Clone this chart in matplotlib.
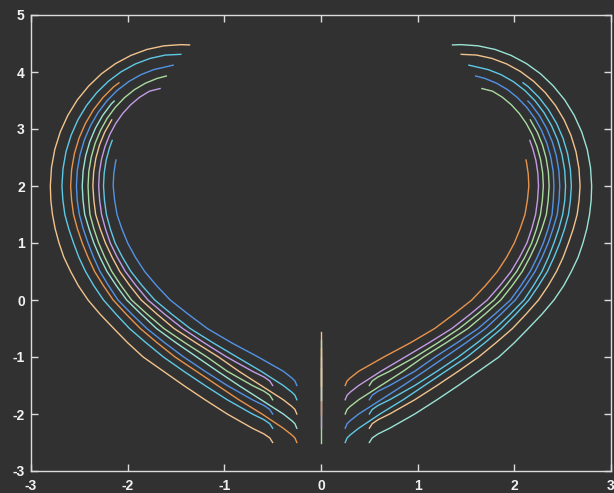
import numpy as np
import matplotlib.pyplot as plt

plt.rcParams['axes.unicode_minus'] = False

# starting points of the trajectories
x_starts = [-0.5, -0.25, 0, 0.25, 0.5]
y_starts = [-2.5, -2.25, -2.0, -1.75, -1.5]

# colour order (cycled)
colors = ['#f2c38c', '#5fc9e6', '#5393e6', '#a9dba0', '#c49ce6', '#e8944c', '#9ae3d4']

# right-hand trajectories (left side is the mirror image)
# x0 = 0.5
a_x = [0.50, 0.53, 0.59, 0.71, 0.97, 1.20, 1.42, 1.63, 1.84, 2.00, 2.144, 2.285, 2.41, 2.51, 2.59, 2.66,
       2.71, 2.75, 2.778, 2.795, 2.80, 2.788, 2.754, 2.697, 2.619, 2.521, 2.404, 2.272, 2.125, 1.967,
       1.80, 1.626, 1.45, 1.36]
a_y = [-2.50, -2.42, -2.35, -2.25, -2.0, -1.75, -1.5, -1.25, -1.0, -0.75, -0.5, -0.25, 0.0, 0.25, 0.5, 0.75,
       1.0, 1.25, 1.5, 1.75, 2.0, 2.324, 2.642, 2.949, 3.24, 3.51, 3.753, 3.968, 4.148, 4.291,
       4.396, 4.459, 4.48, 4.475]
b_x = [0.50, 0.53, 0.59, 0.71, 0.97, 1.20, 1.42, 1.63, 1.81, 1.981, 2.12, 2.25, 2.35, 2.436, 2.505, 2.56,
       2.61, 2.65, 2.67, 2.68, 2.669, 2.638, 2.586, 2.515, 2.426, 2.32, 2.199, 2.065, 1.921, 1.769,
       1.611, 1.45]
b_y = [-2.25, -2.17, -2.10, -2.0, -1.75, -1.5, -1.25, -1.0, -0.75, -0.5, -0.25, 0.0, 0.25, 0.5, 0.75, 1.0,
       1.25, 1.5, 1.75, 2.0, 2.302, 2.60, 2.887, 3.159, 3.411, 3.638, 3.838, 4.007, 4.141, 4.238,
       4.297, 4.31]
d_x = [0.50, 0.53, 0.59, 0.71, 0.97, 1.20, 1.42, 1.617, 1.802, 1.955, 2.10, 2.197, 2.286, 2.353, 2.41,
       2.46, 2.50, 2.522, 2.53, 2.521, 2.493, 2.448, 2.385, 2.307, 2.214, 2.108, 1.99, 1.863, 1.73,
       1.591, 1.53]
d_y = [-2.0, -1.92, -1.85, -1.75, -1.5, -1.25, -1.0, -0.75, -0.5, -0.25, 0.0, 0.25, 0.5, 0.75, 1.0,
       1.25, 1.5, 1.75, 2.0, 2.276, 2.548, 2.809, 3.057, 3.287, 3.495, 3.677, 3.831, 3.953, 4.042,
       4.096, 4.12]
f_x = [0.50, 0.53, 0.59, 0.71, 0.97, 1.18, 1.408, 1.625, 1.797, 1.96, 2.067, 2.164, 2.237, 2.30, 2.35,
       2.39, 2.403, 2.41, 2.402, 2.377, 2.337, 2.281, 2.212, 2.129, 2.034, 1.93, 1.817, 1.699, 1.60]
f_y = [-1.75, -1.67, -1.60, -1.5, -1.25, -1.0, -0.75, -0.5, -0.25, 0.0, 0.25, 0.5, 0.75, 1.0, 1.25,
       1.5, 1.75, 2.0, 2.255, 2.505, 2.747, 2.976, 3.188, 3.379, 3.548, 3.690, 3.803, 3.885, 3.93]
h_x = [0.50, 0.53, 0.59, 0.71, 0.975, 1.21, 1.431, 1.617, 1.79, 1.913, 2.024, 2.108, 2.18, 2.23, 2.27,
       2.29, 2.30, 2.293, 2.271, 2.235, 2.186, 2.124, 2.051, 1.967, 1.875, 1.775, 1.665]
h_y = [-1.5, -1.42, -1.35, -1.25, -1.0, -0.75, -0.5, -0.25, 0.0, 0.25, 0.5, 0.75, 1.0, 1.25, 1.5,
       1.75, 2.0, 2.235, 2.466, 2.689, 2.90, 3.096, 3.273, 3.428, 3.559, 3.663, 3.71]
# x0 = 0.25
c_x = [0.25, 0.27, 0.30, 0.39, 0.61, 0.85, 1.07, 1.29, 1.51, 1.695, 1.869, 2.015, 2.15, 2.25, 2.342,
       2.41, 2.47, 2.52, 2.56, 2.58, 2.59, 2.58, 2.551, 2.503, 2.437, 2.354, 2.256, 2.144, 2.09]
c_y = [-2.50, -2.42, -2.37, -2.25, -2.0, -1.75, -1.5, -1.25, -1.0, -0.75, -0.5, -0.25, 0.0, 0.25, 0.5,
       0.75, 1.0, 1.25, 1.5, 1.75, 2.0, 2.286, 2.568, 2.84, 3.098, 3.336, 3.552, 3.742, 3.81]
e_x = [0.25, 0.27, 0.30, 0.39, 0.62, 0.85, 1.07, 1.285, 1.50, 1.702, 1.86, 2.01, 2.117, 2.214, 2.287,
       2.35, 2.40, 2.444, 2.462, 2.47, 2.461, 2.435, 2.392, 2.333, 2.259, 2.171, 2.14]
e_y = [-2.25, -2.17, -2.12, -2.0, -1.75, -1.5, -1.25, -1.0, -0.75, -0.5, -0.25, 0.0, 0.25, 0.5, 0.75,
       1.0, 1.25, 1.5, 1.75, 2.0, 2.265, 2.526, 2.778, 3.016, 3.237, 3.437, 3.49]
g_x = [0.25, 0.27, 0.30, 0.39, 0.62, 0.85, 1.06, 1.295, 1.52, 1.695, 1.86, 1.977, 2.082, 2.161, 2.23,
       2.285, 2.331, 2.35, 2.36, 2.352, 2.329, 2.291, 2.238, 2.165]
g_y = [-2.0, -1.92, -1.87, -1.75, -1.5, -1.25, -1.0, -0.75, -0.5, -0.25, 0.0, 0.25, 0.5, 0.75, 1.0,
       1.25, 1.5, 1.75, 2.0, 2.246, 2.488, 2.721, 2.942, 3.16]
i_x = [0.25, 0.27, 0.30, 0.39, 0.62, 0.87, 1.118, 1.354, 1.543, 1.72, 1.85, 1.966, 2.054, 2.13, 2.18,
       2.22, 2.24, 2.25, 2.243, 2.223, 2.189, 2.16]
i_y = [-1.75, -1.67, -1.62, -1.5, -1.25, -1.0, -0.75, -0.5, -0.25, 0.0, 0.25, 0.5, 0.75, 1.0, 1.25,
       1.5, 1.75, 2.0, 2.226, 2.449, 2.664, 2.80]
j_x = [0.25, 0.27, 0.30, 0.39, 0.65, 0.926, 1.176, 1.373, 1.56, 1.70, 1.824, 1.92, 2.00, 2.06, 2.11,
       2.135, 2.15, 2.144, 2.126, 2.12]
j_y = [-1.5, -1.42, -1.37, -1.25, -1.0, -0.75, -0.5, -0.25, 0.0, 0.25, 0.5, 0.75, 1.0, 1.25, 1.5,
       1.75, 2.0, 2.209, 2.414, 2.456]

# x0 = 0: straight up the axis
axis_top = [-1.2, -1.0, -0.85, -0.7, -0.556]

outer = [(a_x, a_y), (b_x, b_y), (d_x, d_y), (f_x, f_y), (h_x, h_y)]   # |x0| = 0.5
inner = [(c_x, c_y), (e_x, e_y), (g_x, g_y), (i_x, i_y), (j_x, j_y)]   # |x0| = 0.25

bg = '#313131'
fig = plt.figure(figsize=(6.14, 4.93), dpi=100, facecolor=bg)
ax = fig.add_axes([31/614, 22/493, 580/614, 456/493], facecolor=bg)

k = 0
for x0 in x_starts:
    for j, y0 in enumerate(y_starts):
        col = colors[k % len(colors)]
        if x0 == 0:
            ax.plot([0, 0], [y0, axis_top[j]], color=col, lw=1.0)
        else:
            xs, ys = (outer if abs(x0) == 0.5 else inner)[j]
            sgn = np.sign(x0)
            ax.plot(sgn*np.array(xs), ys, color=col, lw=1.0)
        k += 1

ax.set_xlim(-3, 3)
ax.set_ylim(-3, 5)
ax.set_xticks(range(-3, 4))
ax.set_yticks(range(-3, 6))
for s in ax.spines.values():
    s.set_color('#dcdcdc')
    s.set_linewidth(1.0)
ax.tick_params(direction='in', length=5, width=1.0, colors='#dcdcdc',
               top=True, right=True, labelcolor='#f2f2f2')
ax.tick_params(axis='x', pad=6)
ax.tick_params(axis='y', pad=4.5)
for lab in ax.get_xticklabels() + ax.get_yticklabels():
    lab.set_fontfamily('Liberation Sans')
    lab.set_fontweight('bold')
    lab.set_fontsize(10)

fig.savefig('out.png', dpi=100, facecolor=bg)
